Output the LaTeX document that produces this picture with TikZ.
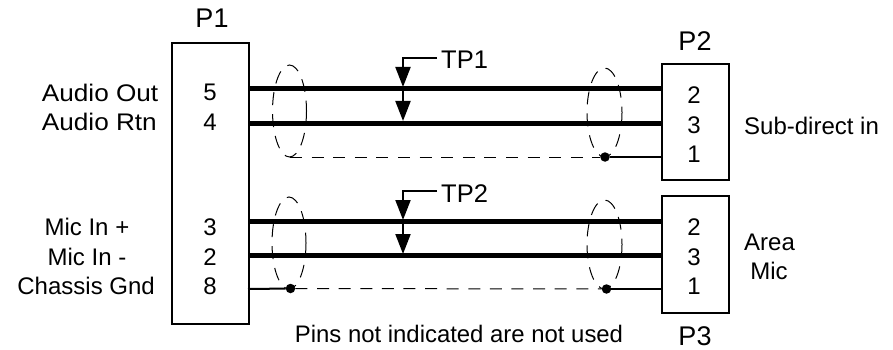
\documentclass[tikz,border=0pt]{standalone}
\usepackage{fontspec}
\setmainfont{Liberation Sans}
\newfontfamily\widefont[FakeStretch=1.09]{Liberation Sans}
\usetikzlibrary{arrows.meta,positioning}
\tikzset{
  x=1pt,y=-1pt,
  connbox/.style={draw,line width=2pt,inner sep=0pt,anchor=north west},
  lbl/.style={inner sep=0pt,anchor=base,font=\fontsize{24}{28}\selectfont},
  head/.style={inner sep=0pt,anchor=base,font=\fontsize{27}{30}\selectfont},
  rlbl/.style={lbl,anchor=base east},
  widelbl/.style={inner sep=0pt,anchor=base east,font=\widefont\fontsize{24}{28}\selectfont},
  thick wire/.style={line width=5pt},
  thin wire/.style={line width=2pt},
  shield wire/.style={line width=1pt,dash pattern=on 12pt off 9.6pt},
  shield/.style={draw,line width=1pt,dash pattern=on 13pt off 9pt},
  junction/.style={circle,fill=black,inner sep=0pt,minimum size=9.5pt},
  probe/.style={line width=2pt,-{Triangle[length=20pt,width=15pt]}}
}
\begin{document}
\begin{tikzpicture}
\useasboundingbox (0,0) rectangle (893,350);
% connector bodies
\node[connbox,minimum width=77pt,minimum height=281pt] (P1) at (171,42) {};
\node[connbox,minimum width=67pt,minimum height=116pt] (P2) at (661,63) {};
\node[connbox,minimum width=67pt,minimum height=117pt] (P3) at (661,195) {};
% titles
\node[head] (tP1) at (212,28) {P1};
\node[head] (tP2) at (695,50.5) {P2};
\node[head] (tP3) at (695,345) {P3};
% pin numbers, left
\node[lbl] (p5) at (210,101) {5};
\node[lbl] (p4) at (210,130) {4};
\node[lbl] (p3) at (210,235) {3};
\node[lbl] (p2) at (210,265) {2};
\node[lbl] (p8) at (210,294) {8};
% pin numbers, right
\node[lbl] (a2) at (694,103) {2};
\node[lbl] (a3) at (694,133) {3};
\node[lbl] (a1) at (694,162) {1};
\node[lbl] (b2) at (694,235) {2};
\node[lbl] (b3) at (694,265) {3};
\node[lbl] (b1) at (694,294) {1};
% left labels
\node[widelbl] (l1) at (158.5,102) {Audio Out};
\node[widelbl] (l2) at (157,131) {Audio Rtn};
\node[rlbl] (l3) at (129.5,235) {Mic In +};
\node[rlbl] (l4) at (126.5,265) {Mic In -};
\node[rlbl] (l5) at (155,294) {Chassis Gnd};
% right labels
\node[lbl,anchor=base west] (r1) at (744,134) {Sub-direct in};
\node[lbl] (r2) at (769.5,250) {Area};
\node[lbl] (r3) at (769,279) {Mic};
\node[lbl,font=\fontsize{23.9}{28}\selectfont] (note) at (459,342.5) {Pins not indicated are not used};
\node[head,anchor=base west,font=\fontsize{25.5}{28}\selectfont] (tp1) at (441,69) {TP1};
\node[head,anchor=base west,font=\fontsize{25.5}{28}\selectfont] (tp2) at (441,202) {TP2};
% wire anchors
\coordinate (w1a) at (248,89);  \coordinate (w1b) at (661,89);
\coordinate (w2a) at (248,123); \coordinate (w2b) at (661,123);
\coordinate (w3a) at (290,157); \coordinate (w3b) at (661,157);
\coordinate (w4a) at (248,221); \coordinate (w4b) at (661,221);
\coordinate (w5a) at (248,255); \coordinate (w5b) at (661,255);
\coordinate (w6a) at (248,289); \coordinate (w6b) at (661,289);
\node[junction] (j1) at (605,157) {};
\node[junction] (j2) at (290.5,288.5) {};
\node[junction] (j3) at (606.5,289) {};
% wires
\draw[thick wire] (w1a) -- (w1b);
\draw[thick wire] (w2a) -- (w2b);
\draw[thick wire] (w4a) -- (w4b);
\draw[thick wire] (w5a) -- (w5b);
\draw[shield wire] (w3a) -- (j1);
\draw[thin wire] (j1) -- (w3b);
\draw[thin wire] (w6a) -- (j2);
\draw[shield wire] (j2) -- (j3);
\draw[thin wire] (j3) -- (w6b);
% shields
\draw[shield] (289.5,111) ellipse [x radius=17,y radius=46];
\draw[shield] (604.5,112.5) ellipse [x radius=17.5,y radius=44.5];
\draw[shield] (289,243) ellipse [x radius=17,y radius=46];
\draw[shield] (604.5,244.5) ellipse [x radius=17.5,y radius=44.5];
% test points
\coordinate (s1) at (437,58);
\coordinate (s2) at (437,191);
\coordinate (c1) at (403,58);
\coordinate (c2) at (403,191);
\coordinate (t1) at (403,87);
\coordinate (t1b) at (403,121);
\coordinate (t2) at (403,220);
\coordinate (t2b) at (403,254);
\draw[probe] (s1) -- (c1) -- (t1);
\draw[probe] (t1) -- (t1b);
\draw[probe] (s2) -- (c2) -- (t2);
\draw[probe] (t2) -- (t2b);
\end{tikzpicture}
\end{document}
